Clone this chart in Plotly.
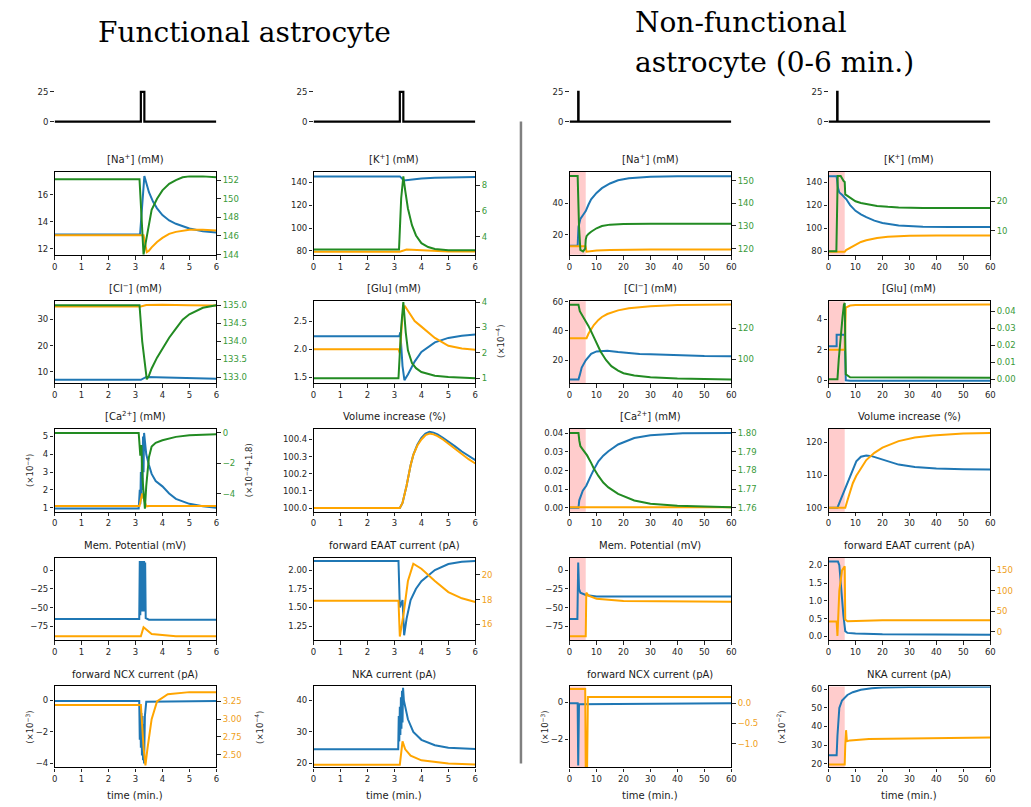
import plotly.graph_objects as go

W, H = 1031, 807
BLUE = "#1f77b4"
ORANGE = "#ffa500"
GREEN = "#228b22"
GREEN_TXT = "#3a9a3a"
ORANGE_TXT = "#f0a020"

# ------------------------------------------------------------------ data
STIM_T_F = [0, 3.2, 3.2, 3.33, 3.33, 6]
STIM_T_N = [0, 3.2, 3.2, 3.33, 3.33, 60]
STIM_V = [0, 0, 25, 25, 0, 0]

# Functional [Na+]
NA_F_TB = [0, 3.17, 3.33, 3.4, 3.5, 3.65, 3.8, 4.0, 4.25, 4.5, 4.75, 5.0, 5.5, 6.0]
NA_F_B = [13.05, 13.05, 17.4, 16.9, 16.2, 15.5, 15.0, 14.5, 14.1, 13.85, 13.65, 13.5, 13.3, 13.2]
NA_F_TO = [0, 3.3, 3.42, 3.5, 3.6, 3.8, 4.0, 4.25, 4.5, 4.75, 5.0, 5.5, 6.0]
NA_F_O = [13.0, 13.0, 11.75, 11.85, 12.1, 12.5, 12.8, 13.1, 13.25, 13.35, 13.4, 13.4, 13.35]
NA_F_TG = [0, 3.15, 3.3, 3.4, 3.5, 3.6, 3.8, 4.0, 4.25, 4.5, 4.75, 5.0, 5.5, 6.0]
NA_F_G = [152.1, 152.1, 144.0, 145.5, 147.4, 148.8, 150.0, 150.9, 151.6, 152.0, 152.3, 152.4, 152.4, 152.3]

# Functional [K+]
K_F_TB = [0, 3.2, 3.35, 3.5, 3.75, 4.0, 4.5, 5.0, 5.5, 6.0]
K_F_B = [145, 145, 141.5, 142.0, 142.7, 143.2, 143.8, 144.2, 144.4, 144.5]
K_F_TO = [0, 3.2, 3.45, 3.7, 4.0, 4.5, 5.0, 6.0]
K_F_O = [79.3, 79.3, 81.3, 81.0, 80.3, 79.7, 79.5, 79.5]
K_F_TG = [0, 3.17, 3.25, 3.33, 3.4, 3.5, 3.65, 3.8, 4.0, 4.25, 4.5, 5.0, 5.5, 6.0]
K_F_G = [3.0, 3.0, 7.0, 8.7, 7.6, 6.2, 4.9, 4.1, 3.5, 3.2, 3.05, 2.95, 2.95, 2.95]

# Functional [Cl-]
CL_F_TB = [0, 3.2, 3.4, 4.0, 5.0, 6.0]
CL_F_B = [6.9, 6.9, 8.0, 7.8, 7.5, 7.35]
CL_F_TO = [0, 3.2, 3.4, 4.0, 5.0, 6.0]
CL_F_O = [34.9, 34.9, 35.5, 35.6, 35.4, 35.3]
CL_F_TG = [0, 3.15, 3.25, 3.42, 3.5, 3.6, 3.8, 4.0, 4.25, 4.5, 4.75, 5.0, 5.5, 6.0]
CL_F_G = [135.0, 135.0, 134.0, 132.95, 133.05, 133.25, 133.55, 133.8, 134.1, 134.35, 134.6, 134.75, 134.93, 135.0]

# Functional [Glu]
GLU_F_TB = [0, 3.18, 3.22, 3.3, 3.37, 3.5, 3.75, 4.0, 4.5, 5.0, 5.5, 6.0]
GLU_F_B = [2.23, 2.23, 2.3, 1.7, 1.45, 1.55, 1.78, 1.95, 2.12, 2.2, 2.24, 2.26]
GLU_F_TO = [0, 3.15, 3.2, 3.3, 3.38, 3.5, 3.75, 4.0, 4.5, 5.0, 5.5, 6.0]
GLU_F_O = [2.0, 2.0, 1.93, 2.6, 2.77, 2.68, 2.5, 2.4, 2.2, 2.06, 2.01, 1.99]
GLU_F_TG = [0, 3.15, 3.25, 3.33, 3.42, 3.5, 3.65, 3.8, 4.0, 4.5, 5.0, 6.0]
GLU_F_G = [1.0, 1.0, 3.0, 4.0, 2.8, 2.1, 1.6, 1.4, 1.25, 1.1, 1.05, 1.0]

# Functional [Ca2+]
CA_F_TB = [0, 3.12, 3.16, 3.18, 3.2, 3.22, 3.24, 3.26, 3.28, 3.3, 3.32, 3.35, 3.4, 3.5, 3.6, 3.75,
           4.0, 4.25, 4.5, 5.0, 5.5, 6.0]
CA_F_B = [0.95, 0.95, 2.0, 1.2, 3.0, 1.5, 4.0, 2.0, 5.0, 3.0, 5.2, 4.8, 4.0, 3.4, 2.9, 2.5,
          2.2, 1.8, 1.5, 1.22, 1.08, 1.0]
CA_F_TO = [0, 3.15, 3.25, 3.32, 3.4, 3.5, 6.0]
CA_F_O = [1.1, 1.1, 1.8, 1.4, 1.08, 1.1, 1.1]
CA_F_TG = [0, 3.12, 3.18, 3.22, 3.26, 3.3, 3.35, 3.4, 3.5, 3.6, 3.75, 4.0, 4.5, 5.0, 5.5, 6.0]
CA_F_G = [0.0, 0.0, -1.5, -0.8, -3.0, -4.0, -5.0, -3.5, -1.6, -0.9, -0.65, -0.48, -0.26, -0.16, -0.11, -0.08]

# Functional volume
VOL_F_T = [0, 3.2, 3.3, 3.45, 3.6, 3.7, 3.85, 4.0, 4.15, 4.3, 4.45, 4.6, 4.8, 5.0, 5.25, 5.5, 5.75, 6.0]
VOL_F_B = [100.0, 100.0, 100.03, 100.13, 100.25, 100.31, 100.37, 100.41, 100.435, 100.445, 100.44,
           100.43, 100.41, 100.39, 100.36, 100.33, 100.305, 100.28]
VOL_F_O = [100.0, 100.0, 100.03, 100.13, 100.25, 100.31, 100.365, 100.40, 100.425, 100.435, 100.43,
           100.42, 100.40, 100.375, 100.345, 100.315, 100.285, 100.26]

# Functional membrane potential
MEM_F_TB = [0, 3.14, 3.16, 3.18, 3.2, 3.22, 3.24, 3.26, 3.28, 3.3, 3.32, 3.34, 3.36, 3.38, 3.5, 6]
MEM_F_B = [-65, -65, 12, -60, 12, -55, 12, -55, 12, -55, 12, -55, 10, -64, -66, -66]
MEM_F_TO = [0, 3.2, 3.3, 3.45, 3.6, 4.5, 6]
MEM_F_O = [-88, -88, -76, -80, -85, -88, -88]

# Functional EAAT
EAAT_F_TB = [0, 3.15, 3.2, 3.3, 3.36, 3.45, 3.6, 3.8, 4.0, 4.5, 5.0, 5.5, 6.0]
EAAT_F_B = [2.12, 2.12, 1.5, 1.6, 1.13, 1.35, 1.6, 1.75, 1.85, 2.0, 2.08, 2.11, 2.12]
EAAT_F_TO = [0, 3.15, 3.2, 3.35, 3.5, 3.7, 4.0, 4.5, 5.0, 5.5, 6.0]
EAAT_F_O = [17.9, 17.9, 15.0, 17.0, 19.5, 20.9, 20.5, 19.5, 18.6, 18.1, 17.8]

# Functional NCX
NCX_F_TB = [0, 3.14, 3.16, 3.18, 3.2, 3.22, 3.24, 3.26, 3.28, 3.3, 3.32, 3.35, 3.4, 6]
NCX_F_B = [-0.05, -0.05, -2.5, -0.5, -3.0, -0.8, -3.5, -1.0, -3.8, -1.5, -4.0, -1.0, -0.1, -0.05]
NCX_F_TO = [0, 3.2, 3.3, 3.37, 3.45, 3.6, 3.8, 4.2, 5.0, 6.0]
NCX_F_O = [3.2, 3.2, 2.6, 2.35, 2.6, 3.0, 3.25, 3.35, 3.38, 3.38]

# Functional NKA
NKA_F_TB = [0, 3.14, 3.16, 3.18, 3.2, 3.22, 3.24, 3.26, 3.28, 3.3, 3.32, 3.35, 3.4, 3.5, 3.7, 4.0,
            4.5, 5.0, 6.0]
NKA_F_B = [24.5, 24.5, 35, 27, 38, 29, 41, 31, 43, 33, 44, 40, 38, 34, 30, 27.5, 25.8, 25, 24.6]
NKA_F_TO = [0, 3.2, 3.3, 3.4, 3.6, 4.0, 5.0, 6.0]
NKA_F_O = [19.6, 19.6, 27, 24.5, 22.5, 21, 20, 19.7]

# Non-functional [Na+]
NA_N_TB = [0, 3.0, 3.3, 3.6, 4.0, 5.0, 6.0, 7.0, 8.0, 10, 12, 15, 18, 22, 26, 30, 40, 50, 60]
NA_N_B = [13, 13, 25, 28.5, 30, 32.5, 35, 39, 42.5, 46.5, 49.5, 52.5, 54.5, 55.8, 56.4, 56.7, 57.0, 57.1, 57.1]
NA_N_TO = [0, 5.9, 6.3, 7, 8, 10, 15, 20, 30, 60]
NA_N_O = [12.7, 12.7, 9.3, 9.5, 9.8, 10.1, 10.4, 10.6, 10.7, 10.7]
NA_N_TG = [0, 3.0, 3.5, 4.0, 5.0, 5.8, 6.0, 6.3, 7, 8, 10, 12, 15, 20, 30, 60]
NA_N_G = [152, 152, 130, 119.5, 118.8, 120, 124, 125.5, 126.5, 127.5, 129, 130, 130.6, 130.9, 131, 131]

# Non-functional [K+]
K_N_TB = [0, 3, 3.5, 4, 5, 6, 6.6, 8, 10, 12, 14, 17, 20, 26, 35, 45, 60]
K_N_B = [145, 145, 135, 131, 129, 127, 125, 120, 115, 112, 109.5, 106.5, 104.5, 102.3, 101.3, 101, 100.9]
K_N_TO = [0, 6.0, 6.5, 8, 10, 12, 14, 18, 22, 30, 40, 60]
K_N_O = [79.5, 79.5, 81, 83, 86, 88, 89.5, 91.5, 92.5, 93.3, 93.6, 93.7]
K_N_TG = [0, 2.9, 3.4, 4.5, 5.6, 6.0, 6.2, 7, 8, 10, 12, 14, 18, 22, 26, 35, 60]
K_N_G = [3.1, 3.1, 28.5, 28.5, 26.8, 26.5, 22.3, 21.8, 21, 20, 19.4, 19, 18.4, 18.1, 17.9, 17.75, 17.7]

# Non-functional [Cl-]
CL_N_TB = [0, 3.3, 3.8, 4.5, 6.0, 7, 8, 10, 12, 14, 18, 22, 26, 30, 40, 50, 60]
CL_N_B = [6.8, 6.8, 10, 15, 20, 22.5, 24.3, 26, 26.5, 26.5, 25.6, 24.8, 24.3, 24, 23.2, 22.8, 22.7]
CL_N_TO = [0, 6.3, 7, 8, 9, 10.7, 12, 14, 18, 22, 30, 40, 60]
CL_N_O = [35, 35, 38, 41.5, 44, 47.5, 49.5, 51.5, 54, 55.5, 56.8, 57.6, 58]
CL_N_TG = [0, 3.3, 3.8, 4.5, 5.2, 6, 7, 8, 9, 10, 11.5, 13.5, 15.5, 18, 20, 24, 30, 40, 50, 60]
CL_N_G = [135.1, 135.1, 131, 129, 127.5, 124.5, 121.5, 118, 114.5, 110.5, 105, 99.5, 95.5, 92.7, 91,
          89.5, 88.3, 87.5, 87.1, 86.9]

# Non-functional [Glu]
GLU_N_TB = [0, 3.0, 3.0, 6.0, 6.4, 8, 60]
GLU_N_B = [2.22, 2.22, 2.97, 2.97, 0.0, -0.03, -0.03]
GLU_N_TO = [0, 6.0, 6.4, 8, 10, 60]
GLU_N_O = [2.0, 2.0, 4.75, 4.88, 4.92, 4.95]
GLU_N_TG = [0, 3.3, 3.8, 4.3, 4.7, 5.2, 5.7, 6.0, 6.4, 8, 60]
GLU_N_G = [0.0, 0.0, 0.012, 0.022, 0.029, 0.037, 0.044, 0.045, 0.003, 0.0012, 0.001]

# Non-functional [Ca2+]
CA_N_TB = [0, 3.3, 3.6, 4.2, 4.9, 6.2, 7, 8, 9, 10.7, 12.5, 14.4, 18, 24, 30, 42, 60]
CA_N_B = [0, 0, 0.004, 0.007, 0.0092, 0.0118, 0.014, 0.0175, 0.0205, 0.025, 0.028, 0.0304, 0.034,
          0.0375, 0.039, 0.040, 0.0402]
CA_N_TO = [0, 6.0, 6.3, 7, 60]
CA_N_O = [0.0002, 0.0002, 0.0005, 0.0002, 0.0002]
CA_N_TG = [0, 3.3, 3.6, 4.0, 5.0, 5.8, 6.5, 8, 9, 10.7, 12.5, 14.4, 18, 24, 30, 40, 50, 60]
CA_N_G = [1.800, 1.800, 1.796, 1.793, 1.791, 1.7894, 1.788, 1.784, 1.781, 1.777, 1.7735, 1.7709,
          1.7674, 1.7639, 1.7621, 1.761, 1.7605, 1.7603]

# Non-functional volume
VOL_N_TB = [0, 3.3, 4.5, 6.6, 8.5, 10.3, 12, 14, 16, 20, 26, 32, 40, 50, 60]
VOL_N_B = [100, 100, 102.5, 106.8, 111, 114.2, 115.6, 116.0, 115.8, 114.7, 113.2, 112.5, 112.0, 111.8, 111.7]
VOL_N_TO = [0, 6.2, 7, 7.9, 9, 10.3, 12, 14, 17, 20, 26, 32, 38.6, 50, 60]
VOL_N_O = [100, 100, 102.2, 104.8, 107.5, 109.8, 112.2, 114.6, 116.8, 118.4, 120.4, 121.5, 122.1, 122.7, 122.9]

# Non-functional membrane potential
MEM_N_TB = [0, 2.9, 3.2, 3.5, 4, 6, 10, 60]
MEM_N_B = [-65, -65, 10, -25, -30, -33, -35, -35]
MEM_N_TO = [0, 6.0, 6.2, 7, 10, 20, 60]
MEM_N_O = [-88, -88, -30, -34, -38, -41, -42]

# Non-functional EAAT
EAAT_N_TB = [0, 3.5, 4.0, 4.5, 5.5, 6.2, 7, 10, 20, 60]
EAAT_N_B = [2.1, 2.1, 2.0, 1.5, 0.6, 0.15, 0.1, 0.08, 0.06, 0.05]
EAAT_N_TO = [0, 3.0, 3.3, 4.0, 5.0, 6.0, 6.2, 7, 20, 60]
EAAT_N_O = [25, 25, -10, 100, 150, 160, 30, 26, 28, 28]

# Non-functional NCX
NCX_N_TB = [0, 3.0, 3.2, 3.5, 60]
NCX_N_B = [-0.05, -0.05, -3.4, -0.1, -0.05]
NCX_N_TO = [0, 5.8, 6.0, 6.5, 6.8, 60]
NCX_N_O = [0.35, 0.35, -1.6, -1.6, 0.15, 0.15]

# Non-functional NKA
NKA_N_TB = [0, 3.0, 3.3, 4, 5, 6, 7, 9, 12, 16, 20, 30, 60]
NKA_N_B = [24.5, 24.5, 35, 50, 54, 55.5, 57, 58.5, 59.8, 60.6, 61, 61.3, 61.5]
NKA_N_TO = [0, 6.0, 6.2, 6.5, 6.8, 8, 15, 60]
NKA_N_O = [19.5, 19.5, 30, 38, 32, 32.5, 33.3, 34]

# ------------------------------------------------------------------ layout helpers
COLX = [(52, 215), (313, 476), (571, 734), (832, 995)]
ROWY = [(169, 253), (300, 383), (429, 513), (560, 643), (690, 772)]
STIMY = (84, 122)

def xdom(c):
    return [COLX[c][0] / W, COLX[c][1] / W]

def ydom(y0, y1):
    return [1 - y1 / H, 1 - y0 / H]

fig = go.Figure()
lay = {}
shapes = []
annots = []
ax_n = [0]

TICKFONT = dict(family="DejaVu Sans", size=8.5, color="#262626")

def base_axis(**kw):
    d = dict(showgrid=False, zeroline=False, showline=True, linecolor="black", linewidth=1.3,
             ticks="outside", ticklen=3.5, tickwidth=1, tickcolor="#262626", tickfont=TICKFONT)
    d.update(kw)
    return d

def add_panel(col, row, title, lrange, lticks, lfmt, curves, right=None, shade=False):
    ax_n[0] += 1
    k = ax_n[0]
    xr = [0, 6] if col < 2 else [0, 60]
    xt = list(range(0, 7)) if col < 2 else list(range(0, 61, 10))
    lay[f"xaxis{k}"] = base_axis(domain=xdom(col), range=xr, tickvals=xt, anchor=f"y{k}",
                                 mirror=True)
    lay[f"yaxis{k}"] = base_axis(domain=ydom(*ROWY[row]), range=lrange, tickvals=lticks,
                                 tickformat=lfmt, anchor=f"x{k}", mirror=True)
    for t, y, c in curves:
        fig.add_trace(go.Scatter(x=t, y=y, mode="lines", line=dict(color=c, width=2),
                                 xaxis=f"x{k}", yaxis=f"y{k}", showlegend=False, hoverinfo="skip"))
    if right is not None:
        ax_n[0] += 1
        r = ax_n[0]
        rrange, rticks, rfmt, rcol, rcurves = right
        lay[f"yaxis{r}"] = base_axis(domain=ydom(*ROWY[row]), range=rrange, tickvals=rticks,
                                     tickformat=rfmt, anchor=f"x{k}", overlaying=f"y{k}",
                                     side="right",
                                     tickfont=dict(family="DejaVu Sans", size=8.5, color=rcol))
        for t, y, c in rcurves:
            fig.add_trace(go.Scatter(x=t, y=y, mode="lines", line=dict(color=c, width=2),
                                     xaxis=f"x{k}", yaxis=f"y{r}", showlegend=False,
                                     hoverinfo="skip"))
    if shade:
        shapes.append(dict(type="rect", xref=f"x{k}", yref=f"y{k} domain", x0=0, x1=6, y0=0, y1=1,
                           fillcolor="rgba(255,0,0,0.2)", line=dict(width=0), layer="below"))
    cx = (COLX[col][0] + COLX[col][1]) / 2 / W
    annots.append(dict(text=title, x=cx, y=1 - (ROWY[row][0] - 5) / H, xref="paper", yref="paper",
                       xanchor="center", yanchor="bottom", showarrow=False,
                       font=dict(family="DejaVu Sans", size=10, color="#1a1a1a")))
    if row == 4:
        annots.append(dict(text="time (min.)", x=cx, y=1 - 800 / H, xref="paper", yref="paper",
                           xanchor="center", yanchor="middle", showarrow=False,
                           font=dict(family="DejaVu Sans", size=10, color="#1a1a1a")))

def add_stim(col):
    ax_n[0] += 1
    k = ax_n[0]
    xr = [0, 6] if col < 2 else [0, 60]
    lay[f"xaxis{k}"] = dict(domain=xdom(col), range=xr, visible=False, anchor=f"y{k}")
    lay[f"yaxis{k}"] = base_axis(domain=ydom(*STIMY), range=[-3.3, 28.3], tickvals=[0, 25],
                                 showline=False, anchor=f"x{k}")
    fig.add_trace(go.Scatter(x=STIM_T_F if col < 2 else STIM_T_N, y=STIM_V, mode="lines",
                             line=dict(color="black", width=2.2), xaxis=f"x{k}", yaxis=f"y{k}",
                             showlegend=False, hoverinfo="skip"))

def vlabel(text, xpx, ypx):
    annots.append(dict(text=text, x=xpx / W, y=1 - ypx / H, xref="paper", yref="paper",
                       xanchor="center", yanchor="middle", showarrow=False, textangle=-90,
                       font=dict(family="DejaVu Sans", size=8.5, color="#262626")))

for c in range(4):
    add_stim(c)

NA = "[Na<sup>+</sup>] (mM)"
KK = "[K<sup>+</sup>] (mM)"
CL = "[Cl<sup>−</sup>] (mM)"
GL = "[Glu] (mM)"
CA = "[Ca<sup>2+</sup>] (mM)"
VO = "Volume increase (%)"
MP = "Mem. Potential (mV)"
EA = "forward EAAT current (pA)"
NC = "forward NCX current (pA)"
NK = "NKA current (pA)"

# ---- functional
add_panel(0, 0, NA, [11.54, 17.71], [12, 14, 16], "d",
          [(NA_F_TB, NA_F_B, BLUE), (NA_F_TO, NA_F_O, ORANGE)],
          right=([143.97, 152.88], [144, 146, 148, 150, 152], "d", GREEN_TXT, [(NA_F_TG, NA_F_G, GREEN)]))
add_panel(1, 0, KK, [76.6, 148.9], [80, 100, 120, 140], "d",
          [(K_F_TB, K_F_B, BLUE), (K_F_TO, K_F_O, ORANGE)],
          right=([2.59, 9.05], [4, 6, 8], "d", GREEN_TXT, [(K_F_TG, K_F_G, GREEN)]))
add_panel(0, 1, CL, [5.6, 36.9], [10, 20, 30], "d",
          [(CL_F_TB, CL_F_B, BLUE), (CL_F_TO, CL_F_O, ORANGE)],
          right=([132.84, 135.11], [133, 133.5, 134, 134.5, 135], ".1f", GREEN_TXT, [(CL_F_TG, CL_F_G, GREEN)]))
add_panel(1, 1, GL, [1.395, 2.85], [1.5, 2.0, 2.5], ".1f",
          [(GLU_F_TB, GLU_F_B, BLUE), (GLU_F_TO, GLU_F_O, ORANGE)],
          right=([0.806, 4.03], [1, 2, 3, 4], "d", GREEN_TXT, [(GLU_F_TG, GLU_F_G, GREEN)]))
add_panel(0, 2, CA, [0.78, 5.44], [1, 2, 3, 4, 5], "d",
          [(CA_F_TB, CA_F_B, BLUE), (CA_F_TO, CA_F_O, ORANGE)],
          right=([-5.19, 0.28], [-4, -2, 0], "d", GREEN_TXT, [(CA_F_TG, CA_F_G, GREEN)]))
add_panel(1, 2, VO, [99.979, 100.463], [100.0, 100.1, 100.2, 100.3, 100.4], ".1f",
          [(VOL_F_T, VOL_F_B, BLUE), (VOL_F_T, VOL_F_O, ORANGE)])
add_panel(0, 3, MP, [-93, 16], [-75, -50, -25, 0], "d",
          [(MEM_F_TB, MEM_F_B, BLUE), (MEM_F_TO, MEM_F_O, ORANGE)])
add_panel(1, 3, EA, [1.066, 2.16], [1.25, 1.5, 1.75, 2.0], ".2f",
          [(EAAT_F_TB, EAAT_F_B, BLUE)],
          right=([14.72, 21.36], [16, 18, 20], "d", ORANGE_TXT, [(EAAT_F_TO, EAAT_F_O, ORANGE)]))
add_panel(0, 4, NC, [-4.25, 0.875], [-4, -2, 0], "d",
          [(NCX_F_TB, NCX_F_B, BLUE)],
          right=([2.32, 3.46], [2.5, 2.75, 3.0, 3.25], ".2f", ORANGE_TXT, [(NCX_F_TO, NCX_F_O, ORANGE)]))
add_panel(1, 4, NK, [18.75, 44.4], [20, 30, 40], "d",
          [(NKA_F_TB, NKA_F_B, BLUE), (NKA_F_TO, NKA_F_O, ORANGE)])

# ---- non-functional
add_panel(2, 0, NA, [7.3, 59.8], [20, 40], "d",
          [(NA_N_TB, NA_N_B, BLUE), (NA_N_TO, NA_N_O, ORANGE)],
          right=([117.3, 153.8], [120, 130, 140, 150], "d", GREEN_TXT, [(NA_N_TG, NA_N_G, GREEN)]), shade=True)
add_panel(3, 0, KK, [76.8, 148.8], [80, 100, 120, 140], "d",
          [(K_N_TB, K_N_B, BLUE), (K_N_TO, K_N_O, ORANGE)],
          right=([1.9, 29.9], [10, 20], "d", GREEN_TXT, [(K_N_TG, K_N_G, GREEN)]), shade=True)
add_panel(2, 1, CL, [4.3, 60.2], [20, 40, 60], "d",
          [(CL_N_TB, CL_N_B, BLUE), (CL_N_TO, CL_N_O, ORANGE)],
          right=([84.5, 137.4], [100, 120], "d", GREEN_TXT, [(CL_N_TG, CL_N_G, GREEN)]), shade=True)
add_panel(3, 1, GL, [-0.19, 5.16], [0, 2, 4], "d",
          [(GLU_N_TB, GLU_N_B, BLUE), (GLU_N_TO, GLU_N_O, ORANGE)],
          right=([-0.0023, 0.046], [0, 0.01, 0.02, 0.03, 0.04], ".2f", GREEN_TXT, [(GLU_N_TG, GLU_N_G, GREEN)]),
          shade=True)
add_panel(2, 2, CA, [-0.0021, 0.0425], [0, 0.01, 0.02, 0.03, 0.04], ".2f",
          [(CA_N_TB, CA_N_B, BLUE), (CA_N_TO, CA_N_O, ORANGE)],
          right=([1.7579, 1.8023], [1.76, 1.77, 1.78, 1.79, 1.80], ".2f", GREEN_TXT, [(CA_N_TG, CA_N_G, GREEN)]),
          shade=True)
add_panel(3, 2, VO, [98.8, 124.2], [100, 110, 120], "d",
          [(VOL_N_TB, VOL_N_B, BLUE), (VOL_N_TO, VOL_N_O, ORANGE)], shade=True)
add_panel(2, 3, MP, [-93, 16], [-75, -50, -25, 0], "d",
          [(MEM_N_TB, MEM_N_B, BLUE), (MEM_N_TO, MEM_N_O, ORANGE)], shade=True)
add_panel(3, 3, EA, [-0.1, 2.2], [0, 0.5, 1.0, 1.5, 2.0], ".1f",
          [(EAAT_N_TB, EAAT_N_B, BLUE)],
          right=([-20, 180], [0, 50, 100, 150], "d", ORANGE_TXT, [(EAAT_N_TO, EAAT_N_O, ORANGE)]), shade=True)
add_panel(2, 4, NC, [-3.5, 0.85], [-2, 0], "d",
          [(NCX_N_TB, NCX_N_B, BLUE)],
          right=([-1.585, 0.41], [-1.0, -0.5, 0.0], ".1f", ORANGE_TXT, [(NCX_N_TO, NCX_N_O, ORANGE)]), shade=True)
add_panel(3, 4, NK, [17.9, 61.6], [20, 30, 40, 50, 60], "d",
          [(NKA_N_TB, NKA_N_B, BLUE), (NKA_N_TO, NKA_N_O, ORANGE)], shade=True)

# rotated scale labels
vlabel("(×10<sup>−4</sup>)", 27, 471)
vlabel("(×10<sup>−4</sup>+1.8)", 248, 471)
vlabel("(×10<sup>−4</sup>)", 501, 341)
vlabel("(×10<sup>−3</sup>)", 27, 731)
vlabel("(×10<sup>−4</sup>)", 258, 731)
vlabel("(×10<sup>−3</sup>)", 546, 731)
vlabel("(×10<sup>−2</sup>)", 784, 731)

# big titles
TF = dict(family="DejaVu Serif", size=28, color="black")
annots.append(dict(text="Functional astrocyte", x=243 / W, y=1 - 28 / H, xref="paper", yref="paper",
                   xanchor="center", yanchor="middle", showarrow=False, font=TF))
annots.append(dict(text="Non-functional", x=635 / W, y=1 - 18 / H, xref="paper", yref="paper",
                   xanchor="left", yanchor="middle", showarrow=False, font=TF))
annots.append(dict(text="astrocyte (0-6 min.)", x=635 / W, y=1 - 58 / H, xref="paper", yref="paper",
                   xanchor="left", yanchor="middle", showarrow=False, font=TF))

# separator line
shapes.append(dict(type="line", xref="paper", yref="paper", x0=522 / W, x1=522 / W,
                   y0=1 - 118 / H, y1=1 - 768 / H, line=dict(color="#808080", width=2.5)))

fig.update_layout(width=W, height=H, margin=dict(l=0, r=0, t=0, b=0), plot_bgcolor="white",
                  paper_bgcolor="white", showlegend=False, shapes=shapes, annotations=annots, **lay)
fig.write_html("out.html", config={"displayModeBar": False},
               post_script="document.body.style.margin='0px';")
